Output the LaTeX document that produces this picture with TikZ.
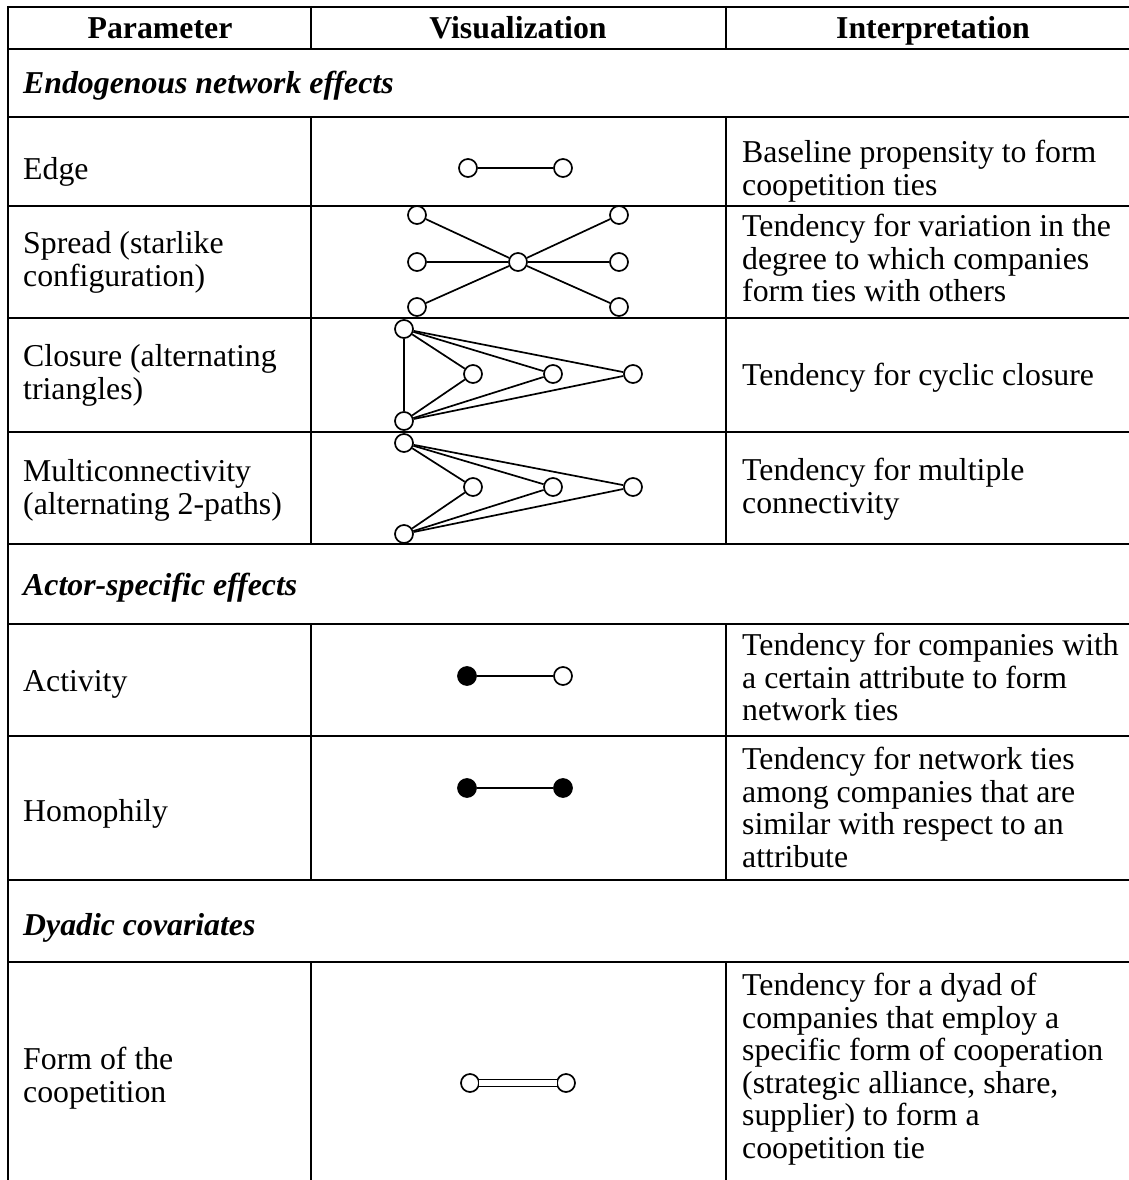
\documentclass[tikz,border=0pt]{standalone}
\usepackage{fontspec}
\setmainfont{Liberation Serif}
\newcommand\cellfont{\fontsize{31.8}{32.5}\selectfont}
\begin{document}
\begin{tikzpicture}[x=1pt,y=-1pt,
  rule/.style={line width=2pt},
  cell/.style={anchor=north west, inner sep=0pt, align=left, font=\cellfont},
  head/.style={anchor=base, inner sep=0pt, font=\cellfont\bfseries},
  section/.style={cell, font=\cellfont\bfseries\itshape},
  vtx/.style={circle, draw, line width=1.7pt, minimum size=18pt, inner sep=0pt, fill=white},
  vtxf/.style={vtx, fill=black},
  tie/.style={line width=1.7pt},
  thintie/.style={line width=1.4pt}]
\useasboundingbox (0,0) rectangle (1129,1180);
\clip (0,0) rectangle (1129,1180);

% ---- table rules ----
\foreach \yy in {7,49,117,206,318,432,544,624,736,880,962}
  \draw[rule] (7,\yy) -- (1140,\yy);
\draw[rule] (8,6) -- (8,1181);
\foreach \xx in {311,726} {
  \draw[rule] (\xx,6) -- (\xx,49);
  \draw[rule] (\xx,117) -- (\xx,544);
  \draw[rule] (\xx,624) -- (\xx,880);
  \draw[rule] (\xx,962) -- (\xx,1181);
}

% ---- header ----
\node[head] (hpar) at (160,39) {Parameter};
\node[head] (hvis) at (518,39) {Visualization};
\node[head] (hint) at (933,39) {Interpretation};

% ---- section titles ----
\node[section] (secendo) at (23,70.25) {\strut Endogenous network effects};
\node[section] (secactor) at (23,572.25) {\strut Actor-specific effects};
\node[section] (secdyad) at (23,912.25) {\strut Dyadic covariates};

% ---- parameter column ----
\node[cell] (pedge) at (23,156.25) {\strut Edge};
\node[cell] (pspread) at (23,230.75) {\strut Spread (starlike\\configuration)};
\node[cell] (pclos) at (23,343.75) {\strut Closure (alternating\\triangles)};
\node[cell] (pmulti) at (23,458.75) {\strut Multiconnectivity\\(alternating 2-paths)};
\node[cell] (pact) at (23,668.75) {\strut Activity};
\node[cell] (phomo) at (23,798.75) {\strut Homophily};
\node[cell] (pform) at (23,1046.75) {\strut Form of the\\coopetition};

% ---- interpretation column ----
\node[cell] (iedge) at (742,139.75) {\strut Baseline propensity to form\\coopetition ties};
\node[cell] (ispread) at (742,213.75) {\strut Tendency for variation in the\\degree to which companies\\form ties with others};
\node[cell] (iclos) at (742,362.75) {\strut Tendency for cyclic closure};
\node[cell] (imulti) at (742,457.75) {\strut Tendency for multiple\\connectivity};
\node[cell] (iact) at (742,632.75) {\strut Tendency for companies with\\a certain attribute to form\\network ties};
\node[cell] (ihomo) at (742,746.75) {\strut Tendency for network ties\\among companies that are\\similar with respect to an\\attribute};
\node[cell] (iform) at (742,972.75) {\strut Tendency for a dyad of\\companies that employ a\\specific form of cooperation\\(strategic alliance, share,\\supplier) to form a\\coopetition tie};

% ---- edge ----
\node[vtx] (e1) at (468,168) {};
\node[vtx] (e2) at (563,168) {};
\draw[thintie] (e1) -- (e2);

% ---- spread (star) ----
\node[vtx] (s1) at (417,215) {};
\node[vtx] (s2) at (417,262) {};
\node[vtx] (s3) at (417,307) {};
\node[vtx] (sc) at (518,262) {};
\node[vtx] (s4) at (619,215) {};
\node[vtx] (s5) at (619,262) {};
\node[vtx] (s6) at (619,307) {};
\foreach \v in {s1,s2,s3,s4,s5,s6}
  \draw[tie] (sc) -- (\v);

% ---- closure (alternating triangles) ----
\node[vtx] (c1) at (404,329) {};
\node[vtx] (c2) at (404,421) {};
\node[vtx] (c3) at (473,374) {};
\node[vtx] (c4) at (553,374) {};
\node[vtx] (c5) at (633,374) {};
\draw[tie] (c1) -- (c2);
\foreach \v in {c3,c4,c5} {
  \draw[tie] (c1) -- (\v);
  \draw[tie] (c2) -- (\v);
}

% ---- multiconnectivity (alternating 2-paths) ----
\node[vtx] (m1) at (404,443) {};
\node[vtx] (m2) at (404,534) {};
\node[vtx] (m3) at (473,487) {};
\node[vtx] (m4) at (553,487) {};
\node[vtx] (m5) at (633,487) {};
\foreach \v in {m3,m4,m5} {
  \draw[tie] (m1) -- (\v);
  \draw[tie] (m2) -- (\v);
}

% ---- activity ----
\node[vtxf] (a1) at (467,676) {};
\node[vtx] (a2) at (563,676) {};
\draw[thintie] (a1) -- (a2);

% ---- homophily ----
\node[vtxf] (h1) at (467,788) {};
\node[vtxf] (h2) at (563,788) {};
\draw[thintie] (h1) -- (h2);

% ---- form of the coopetition ----
\node[vtx] (f1) at (470,1083) {};
\node[vtx] (f2) at (566,1083) {};
\draw[line width=1.2pt, double, double distance=5.5pt, shorten <=-0.5pt, shorten >=-0.5pt] (f1) -- (f2);
\end{tikzpicture}
\end{document}
